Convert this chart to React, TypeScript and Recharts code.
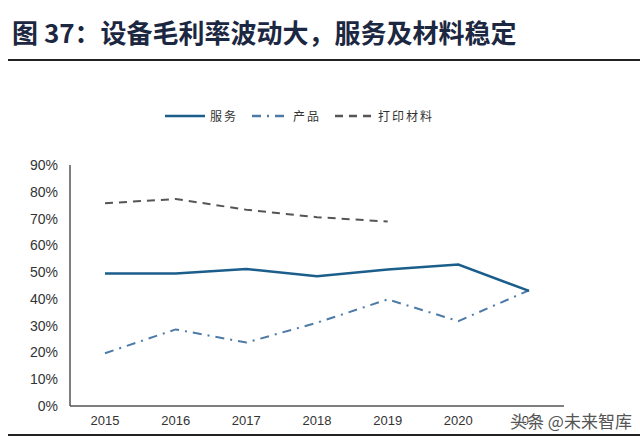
import React from 'react';
import { LineChart, Line, XAxis, YAxis } from 'recharts';

// years on the x axis
const years = ['2015', '2016', '2017', '2018', '2019', '2020', '2021'];
// gross margin by segment
const service = [0.495, 0.495, 0.512, 0.485, 0.51, 0.528, 0.43];
const product = [0.197, 0.286, 0.237, 0.311, 0.398, 0.317, 0.432];
const material = [0.757, 0.773, 0.733, 0.705, 0.689, null, null];
const yTicks = [0, 0.1, 0.2, 0.3, 0.4, 0.5, 0.6, 0.7, 0.8, 0.9];

const data = years.map((year, i) => ({
  year,
  service: service[i],
  product: product[i],
  material: material[i],
}));

const tickFont = { fill: '#333', fontFamily: '"Liberation Sans", Arial, sans-serif' };

const LegendItem = ({ dash, color, label, width = 40 }: { dash?: string; color: string; label: string; width?: number }) => (
  <div style={{ display: 'flex', alignItems: 'center', marginRight: 14 }}>
    <svg width={width} height={6} style={{ marginRight: 5 }}>
      <line x1={0} y1={3} x2={width} y2={3} stroke={color} strokeWidth={2.5} strokeDasharray={dash} />
    </svg>
    <span style={{ fontSize: 12, color: '#333', letterSpacing: 2 }}>{label}</span>
  </div>
);

export default function App() {
  return (
    <div
      style={{
        position: 'absolute',
        left: 0,
        top: 0,
        width: 640,
        height: 440,
        background: '#fff',
        fontFamily: '"Noto Sans CJK SC", sans-serif',
        overflow: 'hidden',
      }}
    >
      <div
        style={{
          position: 'absolute',
          left: 12,
          top: 14,
          fontSize: 26,
          fontWeight: 700,
          color: '#1c2741',
          lineHeight: '36px',
          whiteSpace: 'nowrap',
        }}
      >
        图 37：设备毛利率波动大，服务及材料稳定
      </div>
      <div style={{ position: 'absolute', left: 8, top: 59, width: 632, height: 2, background: '#222' }} />

      <div style={{ position: 'absolute', left: 165, top: 107, display: 'flex', alignItems: 'center' }}>
        <LegendItem color="#1b5e8c" label="服务" />
        <LegendItem color="#4d7aa6" label="产品" dash="9 6 2 6" width={36} />
        <LegendItem color="#555" label="打印材料" dash="8 6" width={38} />
      </div>

      <LineChart
        width={640}
        height={440}
        data={data}
        margin={{ top: 165, right: 76, left: 0, bottom: 0 }}
        style={{ position: 'absolute', left: 0, top: 0 }}
      >
        <XAxis
          dataKey="year"
          padding={{ left: 35, right: 35 }}
          axisLine={{ stroke: '#555', strokeWidth: 1.5 }}
          tickLine={false}
          tickMargin={4}
          height={34}
          interval={0}
          tick={{ ...tickFont, fontSize: 13 }}
        />
        <YAxis
          domain={[0, 0.9]}
          ticks={yTicks}
          tickFormatter={(v: number) => `${Math.round(v * 100)}%`}
          width={70}
          tickLine={false}
          tickMargin={6}
          axisLine={{ stroke: '#555', strokeWidth: 1.5 }}
          tick={{ ...tickFont, fontSize: 14 }}
        />
        <Line dataKey="material" stroke="#555" strokeWidth={2} strokeDasharray="8 6" dot={false} isAnimationActive={false} />
        <Line dataKey="product" stroke="#4d7aa6" strokeWidth={2} strokeDasharray="9 6 2 6" dot={false} isAnimationActive={false} />
        <Line dataKey="service" stroke="#1b5e8c" strokeWidth={2.5} dot={false} isAnimationActive={false} />
      </LineChart>

      <div
        style={{
          position: 'absolute',
          left: 510,
          top: 408,
          fontSize: 17,
          color: '#555',
          whiteSpace: 'nowrap',
          textShadow: '0 0 2px #fff, 0 0 2px #fff',
        }}
      >
        头条 @未来智库
      </div>
      <div style={{ position: 'absolute', left: 8, top: 434, width: 632, height: 2, background: '#222' }} />
    </div>
  );
}
